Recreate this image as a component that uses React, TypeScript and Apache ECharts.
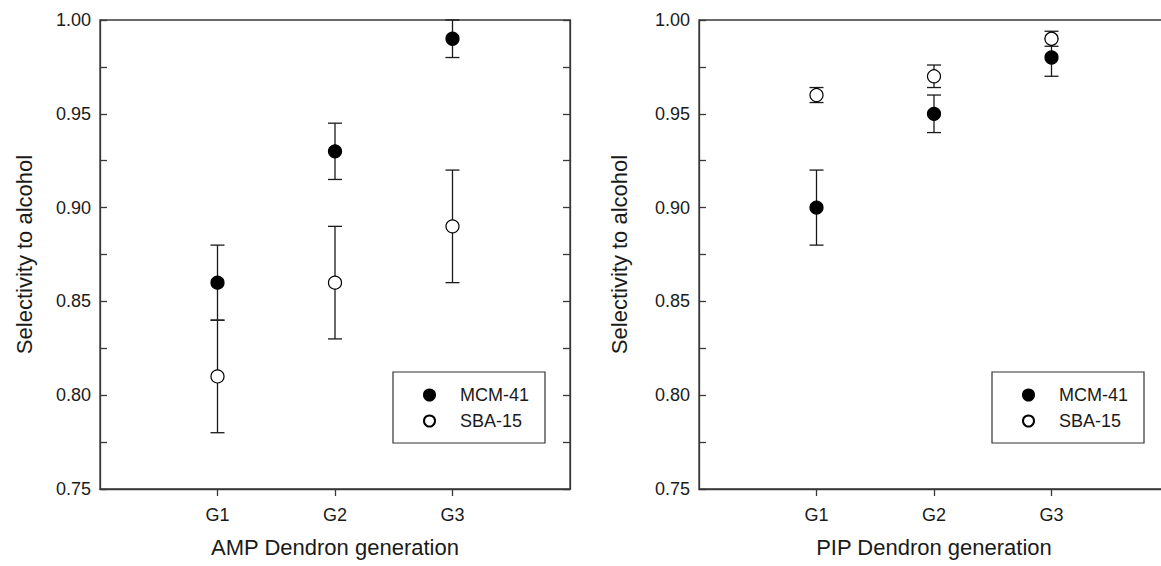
import React, { useEffect, useRef } from "react";
import * as echarts from "echarts";

const generations = ["G1", "G2", "G3"];
const genX = [1, 2, 3];
const yTicks = [0.75, 0.8, 0.85, 0.9, 0.95, 1.0];

const ampMcm = [0.86, 0.93, 0.99];
const ampMcmErr = [0.02, 0.015, 0.01];
const ampSba = [0.81, 0.86, 0.89];
const ampSbaErr = [0.03, 0.03, 0.03];

const pipMcm = [0.9, 0.95, 0.98];
const pipMcmErr = [0.02, 0.01, 0.01];
const pipSba = [0.96, 0.97, 0.99];
const pipSbaErr = [0.004, 0.006, 0.004];

const FONT = "'Liberation Sans', Arial, sans-serif";
const AXIS_COLOR = "#383838";
const TEXT_COLOR = "#1a1a1a";

function pts(vals: number[]) {
  return vals.map((v, i) => [genX[i], v]);
}
function errs(vals: number[], e: number[]) {
  return vals.map((v, i) => [genX[i], v - e[i], v + e[i]]);
}

const renderErr = (params: any, api: any) => {
  const x = api.value(0);
  const lo = api.coord([x, api.value(1)]);
  const hi = api.coord([x, api.value(2)]);
  const hw = 7;
  const style = { stroke: "#1a1a1a", lineWidth: 1.3 };
  return {
    type: "group",
    children: [
      { type: "line", shape: { x1: lo[0], y1: lo[1], x2: hi[0], y2: hi[1] }, style },
      { type: "line", shape: { x1: lo[0] - hw, y1: lo[1], x2: lo[0] + hw, y2: lo[1] }, style },
      { type: "line", shape: { x1: hi[0] - hw, y1: hi[1], x2: hi[0] + hw, y2: hi[1] }, style },
    ],
  };
};

function makeX(gridIndex: number, name: string) {
  return {
    type: "value",
    gridIndex,
    min: 0,
    max: 4,
    interval: 1,
    name,
    nameLocation: "middle",
    nameGap: 47,
    nameTextStyle: { fontSize: 22, fontFamily: FONT, color: TEXT_COLOR },
    axisLine: { show: true, lineStyle: { color: AXIS_COLOR, width: 1.3 } },
    axisTick: { show: true, inside: false, length: 7, customValues: genX, lineStyle: { color: AXIS_COLOR, width: 1.3 } },
    axisLabel: {
      customValues: genX,
      margin: 17,
      fontSize: 18,
      fontFamily: FONT,
      color: TEXT_COLOR,
      formatter: (v: number) => generations[v - 1] ?? "",
    },
    splitLine: { show: false },
  };
}

function makeY(gridIndex: number, nameGap: number) {
  return [
    {
      type: "value",
      gridIndex,
      position: "left",
      min: 0.75,
      max: 1.0,
      interval: 0.05,
      name: "Selectivity to alcohol",
      nameLocation: "middle",
      nameGap,
      nameTextStyle: { fontSize: 22, fontFamily: FONT, color: TEXT_COLOR },
      axisLine: { show: true, lineStyle: { color: AXIS_COLOR, width: 1.3 } },
      axisTick: { show: true, inside: true, length: 7, lineStyle: { color: AXIS_COLOR, width: 1.3 } },
      minorTick: { show: true, splitNumber: 2, length: 7, lineStyle: { color: AXIS_COLOR, width: 1.3 } },
      axisLabel: {
        margin: 9,
        fontSize: 18,
        fontFamily: FONT,
        color: TEXT_COLOR,
        formatter: (v: number) => {
          const t = yTicks.find((k) => Math.abs(k - v) < 1e-6);
          return t !== undefined ? t.toFixed(2) : "";
        },
      },
      splitLine: { show: false },
      minorSplitLine: { show: false },
    },
    {
      type: "value",
      gridIndex,
      position: "right",
      min: 0.75,
      max: 1.0,
      interval: 0.05,
      axisLine: { show: true, lineStyle: { color: AXIS_COLOR, width: 1.3 } },
      axisTick: { show: true, inside: true, length: 7, lineStyle: { color: AXIS_COLOR, width: 1.3 } },
      minorTick: { show: true, splitNumber: 2, length: 7, lineStyle: { color: AXIS_COLOR, width: 1.3 } },
      axisLabel: { show: false },
      splitLine: { show: false },
      minorSplitLine: { show: false },
    },
  ];
}

function makeLegend(left: number) {
  return {
    left,
    top: 372,
    orient: "vertical",
    data: ["MCM-41", "SBA-15"],
    itemWidth: 11,
    itemHeight: 11,
    itemGap: 6,
    padding: [13, 16, 12, 30],
    borderColor: "#333",
    borderWidth: 1.2,
    selectedMode: false,
    icon: "circle",
    textStyle: {
      fontSize: 18,
      lineHeight: 20,
      fontFamily: FONT,
      color: TEXT_COLOR,
      padding: [0, 0, 0, 20],
    },
  };
}

function markerSeries(name: string, data: number[], filled: boolean, idx: number) {
  return {
    type: "scatter",
    name,
    xAxisIndex: idx,
    yAxisIndex: idx * 2,
    data: pts(data),
    symbol: "circle",
    symbolSize: 13,
    z: filled ? 3 : 4,
    itemStyle: {
      color: filled ? "#000" : "#fff",
      borderColor: "#000",
      borderWidth: 1.2,
      opacity: 1,
    },
  };
}

function errSeries(name: string, vals: number[], e: number[], idx: number) {
  return {
    type: "custom",
    name,
    xAxisIndex: idx,
    yAxisIndex: idx * 2,
    data: errs(vals, e),
    renderItem: renderErr,
    clip: false,
    z: 2,
    encode: { x: 0, y: [1, 2] },
  };
}

export default function App() {
  const ref = useRef<HTMLDivElement>(null);
  useEffect(() => {
    if (!ref.current) return;
    const chart = echarts.init(ref.current, null, { renderer: "svg" });
    chart.setOption({
      animation: false,
      backgroundColor: "#fff",
      textStyle: { fontFamily: FONT },
      grid: [
        { left: 100, top: 20, width: 470, height: 469, outerBoundsMode: "none", containLabel: false, show: true, borderColor: AXIS_COLOR, borderWidth: 1.3, backgroundColor: "transparent" },
        { left: 699, top: 20, width: 470, height: 469, outerBoundsMode: "none", containLabel: false, show: true, borderColor: AXIS_COLOR, borderWidth: 1.3, backgroundColor: "transparent" },
      ],
      xAxis: [makeX(0, "AMP Dendron generation"), makeX(1, "PIP Dendron generation")],
      yAxis: [...makeY(0, 65), ...makeY(1, 69)],
      legend: [makeLegend(393), makeLegend(992)],
      series: [
        errSeries("errAmpMcm", ampMcm, ampMcmErr, 0),
        errSeries("errAmpSba", ampSba, ampSbaErr, 0),
        errSeries("errPipMcm", pipMcm, pipMcmErr, 1),
        errSeries("errPipSba", pipSba, pipSbaErr, 1),
        markerSeries("MCM-41", ampMcm, true, 0),
        markerSeries("SBA-15", ampSba, false, 0),
        markerSeries("MCM-41", pipMcm, true, 1),
        markerSeries("SBA-15", pipSba, false, 1),
      ],
    });
    return () => chart.dispose();
  }, []);
  return (
    <div
      ref={ref}
      style={{ position: "fixed", left: 0, top: 0, width: 1161, height: 566, background: "#fff" }}
    />
  );
}
